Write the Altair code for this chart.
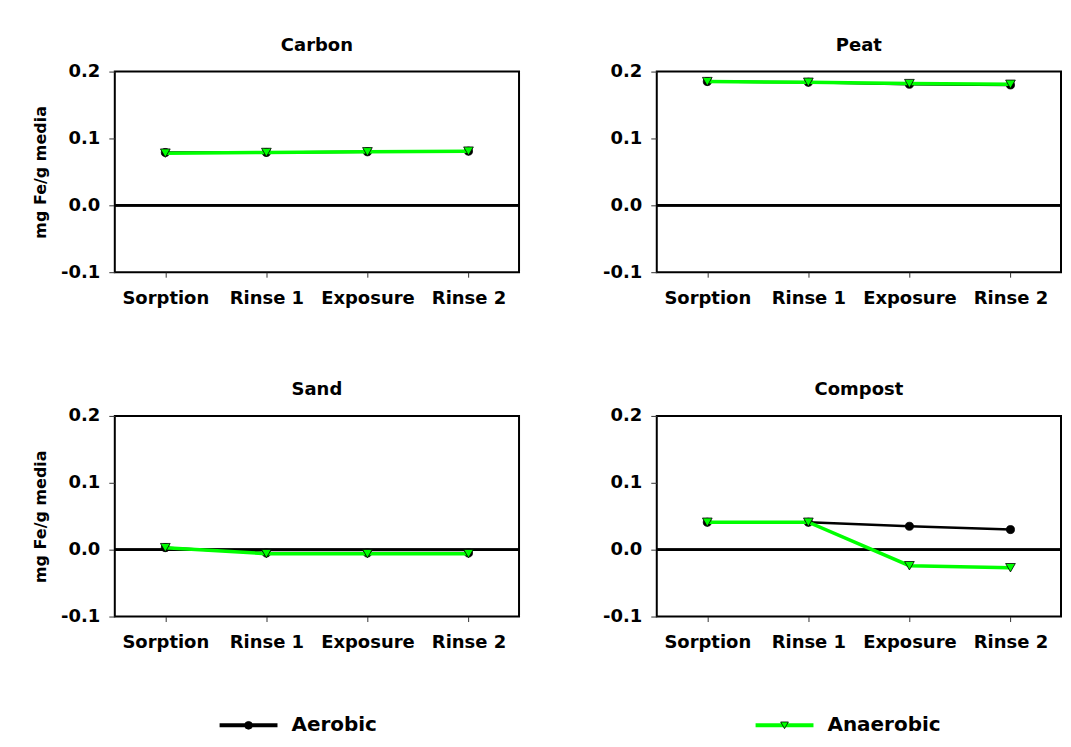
import altair as alt
import pandas as pd

stages = ["Sorption", "Rinse 1", "Exposure", "Rinse 2"]
series_names = ["Aerobic", "Anaerobic"]
series_colors = ["#000000", "#00ff00"]
series_shapes = ["circle", "triangle-down"]

carbon_aerobic = [0.079, 0.079, 0.080, 0.081]
carbon_anaerobic = [0.078, 0.079, 0.080, 0.081]
peat_aerobic = [0.185, 0.184, 0.181, 0.180]
peat_anaerobic = [0.185, 0.184, 0.182, 0.181]
sand_aerobic = [0.003, -0.005, -0.005, -0.005]
sand_anaerobic = [0.003, -0.006, -0.006, -0.006]
compost_aerobic = [0.041, 0.041, 0.035, 0.030]
compost_anaerobic = [0.041, 0.041, -0.024, -0.027]

y_ticks = [-0.1, 0.0, 0.1, 0.2]
y_title = "mg Fe/g media"
FONT = "DejaVu Sans"

color_scale = alt.Scale(domain=series_names, range=series_colors)
shape_scale = alt.Scale(domain=series_names, range=series_shapes)


def panel(title, aer, ana, show_ytitle):
    df = pd.DataFrame({
        "stage": stages * 2,
        "series": [series_names[0]] * 4 + [series_names[1]] * 4,
        "value": aer + ana,
    })
    x = alt.X("stage:N", sort=stages, scale=alt.Scale(domain=stages, padding=0.5),
              axis=alt.Axis(title=None, labelAngle=0, domain=False, ticks=True, tickSize=5,
                            tickColor="#333333", tickWidth=1, labelPadding=12, labelFont=FONT,
                            labelFontSize=18, labelFontWeight="bold", labelColor="black",
                            grid=False))
    yaxis_kw = dict(values=y_ticks, domain=False, ticks=True, tickSize=6, tickColor="#333333",
                    tickWidth=1, labelPadding=9, labelFont=FONT, labelFontSize=18,
                    labelFontWeight="bold", labelColor="black", grid=False,
                    labelExpr="replace(format(datum.value, '.1f'), '\u2212', '-')")
    if show_ytitle:
        yaxis_kw.update(title=y_title, titleFont=FONT, titleFontSize=16, titleFontWeight="bold",
                        titleColor="black", titlePadding=12)
    else:
        yaxis_kw.update(title=None)
    y = alt.Y("value:Q", scale=alt.Scale(domain=[-0.1, 0.2], nice=False, zero=False),
              axis=alt.Axis(**yaxis_kw))
    color = alt.Color("series:N", scale=color_scale, legend=None)
    fill = alt.Fill("series:N", scale=color_scale, legend=None)
    shape = alt.Shape("series:N", scale=shape_scale, legend=None)

    base = alt.Chart(df)
    zero = alt.Chart(df).mark_rule(color="black", strokeWidth=2).encode(y=alt.datum(0.0))
    layers = [zero]
    for s, lw, sz in [(series_names[0], 2.5, 65), (series_names[1], 3.5, 95)]:
        sub = base.transform_filter(alt.datum.series == s)
        layers.append(sub.mark_line(strokeWidth=lw).encode(x=x, y=y, color=color))
        layers.append(sub.mark_point(filled=True, stroke="black", strokeWidth=0.8, opacity=1,
                                     size=sz).encode(x=x, y=y, fill=fill, shape=shape))
    return alt.layer(*layers).properties(
        width=405, height=201,
        title=alt.TitleParams(title, font=FONT, fontSize=18, fontWeight="bold", color="black",
                              offset=8),
        view=alt.ViewBackground(stroke="black", strokeWidth=2),
    )


p1 = panel("Carbon", carbon_aerobic, carbon_anaerobic, True)
p2 = panel("Peat", peat_aerobic, peat_anaerobic, False)
p3 = panel("Sand", sand_aerobic, sand_anaerobic, True)
p4 = panel("Compost", compost_aerobic, compost_anaerobic, False)

row1 = alt.hconcat(p1, p2, spacing=80)
row2 = alt.hconcat(p3, p4, spacing=80)

leg_df = pd.DataFrame({"series": series_names})
lx = alt.X("series:N", scale=alt.Scale(domain=series_names, range=[134, 671], padding=0),
           axis=None)
leg_base = alt.Chart(leg_df)
leg_line = leg_base.mark_point(shape="M-1,0H1", size=3364, filled=False, strokeWidth=4,
                               opacity=1).encode(
    x=lx, color=alt.Color("series:N", scale=color_scale, legend=None))
leg_pt = leg_base.mark_point(filled=True, stroke="black", strokeWidth=0.8, size=60,
                             opacity=1).encode(
    x=lx, fill=alt.Fill("series:N", scale=color_scale, legend=None),
    shape=alt.Shape("series:N", scale=shape_scale, legend=None))
leg_txt = leg_base.mark_text(align="left", baseline="middle", dx=43, font=FONT, fontSize=20,
                             fontWeight="bold", color="black").encode(x=lx, text="series:N")
legend = alt.layer(leg_line, leg_pt, leg_txt).properties(
    width=860, height=20, view=alt.ViewBackground(stroke="transparent"))

chart = alt.vconcat(alt.vconcat(row1, row2, spacing=72), legend, spacing=62).properties(
    padding={"left": 23, "top": 27, "right": 0, "bottom": 0}
).configure_view(stroke="transparent").configure(background="white")

chart.save("out.html", embed_options={"renderer": "svg", "actions": False})
